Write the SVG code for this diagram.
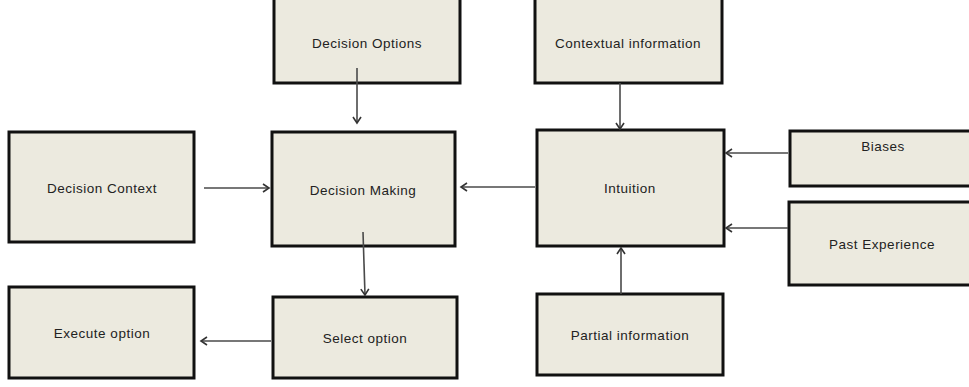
<svg xmlns="http://www.w3.org/2000/svg" width="969" height="387" viewBox="0 0 969 387">
<style>
.box{fill:#ECEADF;stroke:#111;stroke-width:3}
.lbl{font-family:"Liberation Sans",Arial,sans-serif;font-size:13.5px;letter-spacing:0.5px;fill:#222;text-anchor:middle;dominant-baseline:central}
.con{stroke:#4a4a4a;stroke-width:1.6;fill:none}
</style>
<defs>
<marker id="ah" markerWidth="10" markerHeight="10" refX="8" refY="5" orient="auto" markerUnits="userSpaceOnUse">
<path d="M2,1 L8,5 L2,9" fill="none" stroke="#333" stroke-width="1.6"/>
</marker>
</defs>
<rect width="969" height="387" fill="#fff"/>
<g id="decision-options"><rect class="box" x="274" y="-2" width="186" height="85"/><text class="lbl" x="367" y="43">Decision Options</text></g>
<g id="contextual-information"><rect class="box" x="535" y="-2" width="187" height="85"/><text class="lbl" x="628" y="43">Contextual information</text></g>
<g id="decision-context"><rect class="box" x="9" y="132" width="185" height="110"/><text class="lbl" x="102" y="188">Decision Context</text></g>
<g id="decision-making"><rect class="box" x="272" y="132" width="183" height="114"/><text class="lbl" x="363" y="190">Decision Making</text></g>
<g id="intuition"><rect class="box" x="537" y="130" width="187" height="116"/><text class="lbl" x="630" y="188">Intuition</text></g>
<g id="biases"><rect class="box" x="790" y="131" width="185" height="55"/><text class="lbl" x="883" y="146">Biases</text></g>
<g id="past-experience"><rect class="box" x="789" y="202" width="186" height="83"/><text class="lbl" x="882" y="244">Past Experience</text></g>
<g id="execute-option"><rect class="box" x="9" y="287" width="185" height="91"/><text class="lbl" x="102" y="333">Execute option</text></g>
<g id="select-option"><rect class="box" x="273" y="297" width="184" height="81"/><text class="lbl" x="365" y="338">Select option</text></g>
<g id="partial-information"><rect class="box" x="537" y="294" width="186" height="81"/><text class="lbl" x="630" y="335">Partial information</text></g>
<g id="connectors">
<line class="con" x1="357" y1="68" x2="357" y2="123" marker-end="url(#ah)"/>
<line class="con" x1="620" y1="83" x2="620" y2="129" marker-end="url(#ah)"/>
<line class="con" x1="204" y1="188" x2="269" y2="188" marker-end="url(#ah)"/>
<line class="con" x1="535" y1="187" x2="461" y2="187" marker-end="url(#ah)"/>
<line class="con" x1="788" y1="153" x2="726" y2="153" marker-end="url(#ah)"/>
<line class="con" x1="788" y1="228" x2="726" y2="228" marker-end="url(#ah)"/>
<line class="con" x1="363" y1="232" x2="365" y2="295" marker-end="url(#ah)"/>
<line class="con" x1="271" y1="341" x2="201" y2="341" marker-end="url(#ah)"/>
<line class="con" x1="621" y1="294" x2="621" y2="248" marker-end="url(#ah)"/>
</g>
</svg>
